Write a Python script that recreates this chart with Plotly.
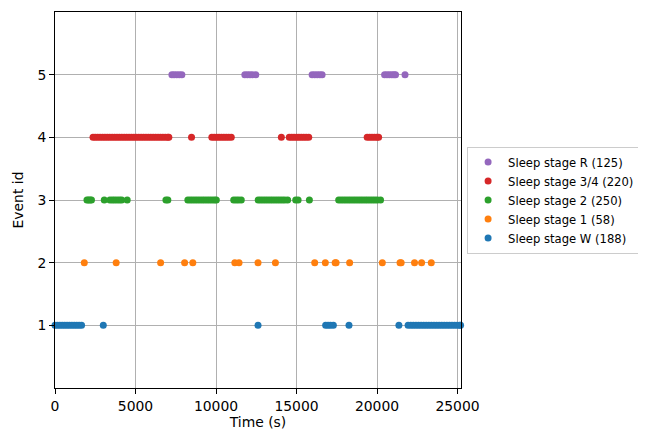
import plotly.graph_objects as go

# Event onset times (s), per sleep stage
stage_w_times = [0, 150, 300, 450, 600, 750, 900, 1050, 1200, 1350, 1500, 1650,
                 3000, 12610, 16810, 16960, 17110, 17290, 18260, 21360,
                 21930, 22100, 22260, 22420, 22580, 22740, 22900, 23060, 23220,
                 23380, 23540, 23700, 23860, 24020, 24180, 24340, 24500, 24660,
                 24820, 24980, 25140, 25190]
stage_1_times = [1820, 3800, 6560, 8050, 8560, 11170, 11430, 12610, 13690, 16130,
                 16790, 17400, 17460, 18300, 20330, 21430, 21500, 22330, 22770, 23370]
stage_2_times = [1985, 2080, 2180, 2265, 3060, 3410, 3560, 3700, 3850, 4000, 4140,
                 4485, 6890, 7010, 8250, 8400, 8550, 8700, 8850, 9000, 9150, 9300,
                 9450, 9600, 9750, 9900, 10020, 11100, 11250, 11400, 11570,
                 12620, 12770, 12920, 13070, 13220, 13370, 13520, 13670, 13820,
                 13970, 14120, 14270, 14450, 14950, 15100, 15800,
                 17620, 17770, 17920, 18070, 18220, 18370, 18520, 18670, 18820,
                 18970, 19120, 19270, 19420, 19570, 19720, 19870, 20020, 20220]
stage_34_times = [2360, 2500, 2650, 2800, 2950, 3100, 3250, 3400, 3550, 3700, 3850,
                  4000, 4150, 4300, 4450, 4600, 4750, 4900, 5050, 5200, 5350, 5500,
                  5650, 5800, 5950, 6100, 6250, 6400, 6550, 6700, 6850, 7000, 7070,
                  8480, 9740, 9890, 10040, 10190, 10340, 10490, 10640, 10790, 10950,
                  14060, 14550, 14700, 14850, 15000, 15150, 15300, 15450, 15600, 15760,
                  19390, 19540, 19690, 19840, 19990, 20100]
stage_r_times = [7260, 7400, 7560, 7720, 7880, 11790, 11950, 12110, 12270, 12470,
                 15970, 16130, 16290, 16450, 16590, 20470, 20620, 20770, 20920,
                 21050, 21150, 21740]

stage_names = ["Sleep stage W (188)", "Sleep stage 1 (58)", "Sleep stage 2 (250)",
               "Sleep stage 3/4 (220)", "Sleep stage R (125)"]
event_ids = [1, 2, 3, 4, 5]
stage_times = [stage_w_times, stage_1_times, stage_2_times, stage_34_times, stage_r_times]
colors = ["#1f77b4", "#ff7f0e", "#2ca02c", "#d62728", "#9467bd"]

x_ticks = [0, 5000, 10000, 15000, 20000, 25000]
x_tick_labels = ["0", "5000", "10000", "15000", "20000", "25000"]
y_ticks = [1, 2, 3, 4, 5]

fig = go.Figure()
for name, eid, times, col in zip(stage_names, event_ids, stage_times, colors):
    fig.add_trace(go.Scatter(
        x=times, y=[eid] * len(times), mode="markers", name=name,
        marker=dict(color=col, size=7, line=dict(width=0)),
        cliponaxis=False,
    ))

font_family = "DejaVu Sans"
axis_common = dict(
    showline=True, linecolor="black", linewidth=1, mirror=True,
    ticks="outside", ticklen=5, tickcolor="black", tickwidth=1,
    showgrid=True, gridcolor="#b0b0b0", gridwidth=1, zeroline=False,
    automargin=False,
    tickfont=dict(family=font_family, size=13.9, color="black"),
)
fig.update_layout(
    width=638, height=422,
    margin=dict(l=47, r=185, t=4, b=42),
    paper_bgcolor="white", plot_bgcolor="white",
    font=dict(family=font_family, color="black"),
    xaxis=dict(range=[0, 25217], tickvals=x_ticks, ticktext=x_tick_labels,
               title=dict(text="Time (s)", font=dict(size=13.9), standoff=4),
               **axis_common),
    yaxis=dict(range=[0, 6], tickvals=y_ticks,
               title=dict(text="Event id", font=dict(size=13.9), standoff=10),
               **axis_common),
    legend=dict(x=1.015, y=0.5, xanchor="left", yanchor="middle",
                traceorder="reversed", bordercolor="#cccccc", borderwidth=1,
                bgcolor="white", font=dict(family=font_family, size=11.6)),
    showlegend=True,
)

fig.write_html("out.html")
